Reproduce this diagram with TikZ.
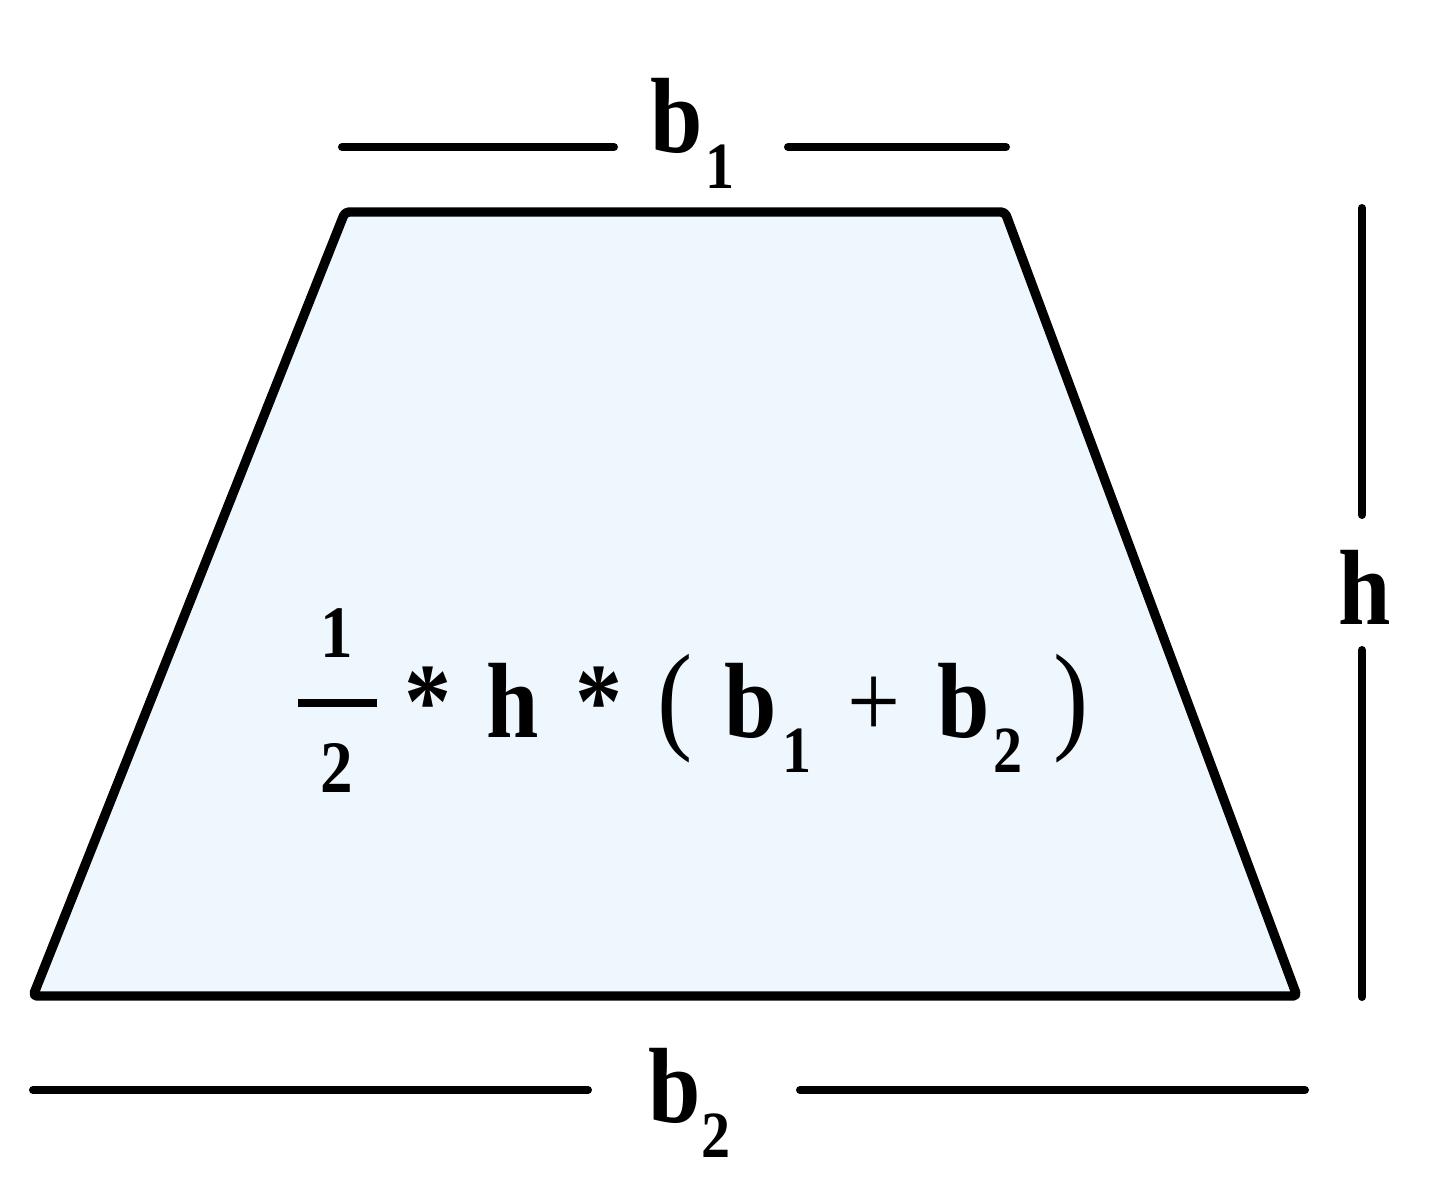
\documentclass[tikz,border=0pt]{standalone}
\usepackage{fontspec}
\setmainfont{Liberation Serif}[FakeStretch=0.88]
\definecolor{trapfill}{RGB}{238,247,254}
\tikzset{
  big/.style={font=\fontsize{53.5}{60}\selectfont\bfseries, inner sep=0pt, anchor=base},
  op/.style={font=\fontsize{53.5}{60}\selectfont, inner sep=0pt, anchor=base},
  paren/.style={font=\fontsize{60}{66}\selectfont, inner sep=0pt, anchor=base},
  small/.style={font=\fontsize{33}{38}\selectfont\bfseries, inner sep=0pt, anchor=base},
  frac/.style={font=\fontsize{37}{42}\selectfont\bfseries, inner sep=0pt, anchor=base},
  dimline/.style={line width=4pt, line cap=round},
  trapstyle/.style={line width=4.7pt, line join=round, rounded corners=2pt, fill=trapfill}
}
\begin{document}
\begin{tikzpicture}[x=0.5pt, y=-0.5pt]
\useasboundingbox (0,0) rectangle (1440,1196);
% trapezoid
\coordinate (tl) at (345,212);
\coordinate (tr) at (1005,212);
\coordinate (br) at (1297,996);
\coordinate (bl) at (33,996);
\draw[trapstyle] (tl) -- (tr) -- (br) -- (bl) -- cycle;
% top dimension
\coordinate (t1) at (342,147);
\coordinate (t2) at (614,147);
\coordinate (t3) at (788,147);
\coordinate (t4) at (1006,147);
\draw[dimline] (t1) -- (t2);
\draw[dimline] (t3) -- (t4);
\node[big] (b1b) at (677,152) {b};
\node[small] (b1s) at (720,188) {1};
% bottom dimension
\coordinate (u1) at (33,1090);
\coordinate (u2) at (588,1090);
\coordinate (u3) at (800,1090);
\coordinate (u4) at (1305,1090);
\draw[dimline] (u1) -- (u2);
\draw[dimline] (u3) -- (u4);
\node[big] (b2b) at (675,1122) {b};
\node[small] (b2s) at (716,1157) {2};
% right dimension
\coordinate (r1) at (1362,208);
\coordinate (r2) at (1362,515);
\coordinate (r3) at (1362,650);
\coordinate (r4) at (1362,997);
\draw[dimline] (r1) -- (r2);
\draw[dimline] (r3) -- (r4);
\node[big] (hl) at (1365,624) {h};
% formula
\node[frac] (fn) at (337,657) {1};
\node[frac] (fd) at (337,792) {2};
\coordinate (fb1) at (298,703);
\coordinate (fb2) at (377,703);
\draw[line width=4pt] (fb1) -- (fb2);
\node[big] (st1) at (428,737) {*};
\node[big] (fh) at (513,737) {h};
\node[big] (st2) at (599,737) {*};
\node[paren] (lp) at (675,737) {(};
\node[big] (fb1b) at (751,737) {b};
\node[small] (fb1s) at (797,772) {1};
\node[op] (pl) at (874,737) {+};
\node[big] (fb2b) at (964,737) {b};
\node[small] (fb2s) at (1008,772) {2};
\node[paren] (rp) at (1071,737) {)};
\end{tikzpicture}
\end{document}
